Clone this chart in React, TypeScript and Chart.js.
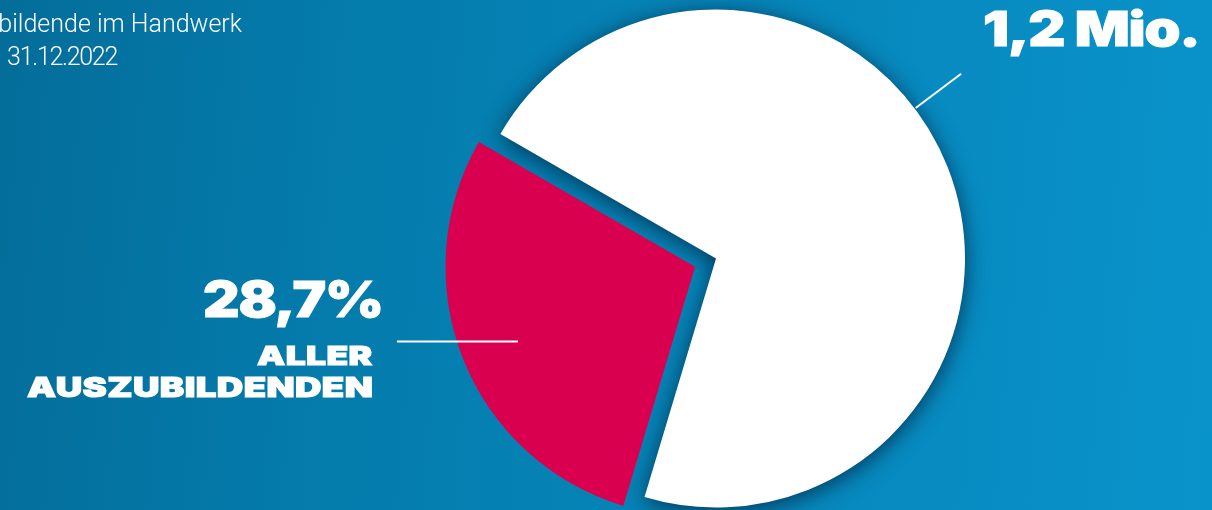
import React, { useEffect, useLayoutEffect, useRef } from "react";
import { Chart, registerables } from "chart.js";

Chart.register(...registerables);

// ---- data ----
const categories = ["Übrige Ausbildungsbereiche", "Handwerk"];
const shares = [71.3, 28.7];
const sliceColors = ["#ffffff", "#da0050"];
const sliceOffsets = [0, 90];
const titleLine1 = "Auszubildende im Handwerk";
const titlePrefix2 = "Stand";
const titleDate = "31.12.2022";
const totalLabel = "1,2 Mio.";
const shareLabel = "28,7%";
const shareCaption = ["ALLER", "AUSZUBILDENDEN"];

// ---- style ----
const W = 1212;
const H = 510;
const sliceShadows = [
  { color: "rgba(0, 35, 65, 0.8)", blur: 22, x: 0, y: 4 },
  { color: "rgba(0,0,0,0)", blur: 0, x: 0, y: 0 },
];

const shadowPlugin = {
  id: "sliceShadow",
  beforeDatasetsDraw(chart: any) {
    const meta = chart.getDatasetMeta(0);
    meta.data.forEach((el: any, i: number) => {
      if (el.__wrapped) return;
      const orig = el.draw.bind(el);
      const sh = sliceShadows[i];
      el.draw = (ctx: CanvasRenderingContext2D) => {
        ctx.save();
        ctx.shadowColor = sh.color;
        ctx.shadowBlur = sh.blur;
        ctx.shadowOffsetX = sh.x;
        ctx.shadowOffsetY = sh.y;
        orig(ctx);
        ctx.restore();
      };
      el.__wrapped = true;
    });
  },
};

const leaderPlugin = {
  id: "leaders",
  afterDatasetsDraw(chart: any) {
    const meta = chart.getDatasetMeta(0);
    const el = meta.data[0];
    if (!el) return;
    const { x, y, outerRadius } = el;
    const ctx = chart.ctx as CanvasRenderingContext2D;
    ctx.save();
    ctx.strokeStyle = "#ffffff";
    ctx.lineWidth = 2;
    const a = (-37 * Math.PI) / 180;
    ctx.beginPath();
    ctx.moveTo(x + Math.cos(a) * (outerRadius + 1), y + Math.sin(a) * (outerRadius + 1));
    ctx.lineTo(x + Math.cos(a) * (outerRadius + 58), y + Math.sin(a) * (outerRadius + 58));
    ctx.stroke();
    ctx.beginPath();
    ctx.moveTo(x - 319, y + 83);
    ctx.lineTo(x - 198, y + 83);
    ctx.stroke();
    ctx.restore();
  },
};

function FitText({ children, right, top, width, style }: any) {
  const ref = useRef<HTMLSpanElement>(null);
  useLayoutEffect(() => {
    const fit = () => {
      const el = ref.current;
      if (!el) return;
      const w = el.offsetWidth;
      if (w > 0 && width) el.style.transform = `scaleX(${width / w})`;
    };
    fit();
    (document as any).fonts?.ready.then(fit);
  }, [width]);
  return (
    <span
      ref={ref}
      style={{
        position: "absolute",
        right: W - right,
        top,
        whiteSpace: "nowrap",
        transformOrigin: "right top",
        lineHeight: 1,
        display: "inline-block",
        color: "#ffffff",
        ...style,
      }}
    >
      {children}
    </span>
  );
}

export default function App() {
  const canvasRef = useRef<HTMLCanvasElement>(null);

  useEffect(() => {
    document.body.style.margin = "0";
    const canvas = canvasRef.current;
    if (!canvas) return;
    const chart = new Chart(canvas, {
      type: "pie",
      data: {
        labels: categories,
        datasets: [
          {
            data: shares,
            backgroundColor: sliceColors,
            borderWidth: 0,
            offset: sliceOffsets,
          },
        ],
      },
      options: {
        responsive: false,
        animation: false,
        rotation: -60,
        radius: 249,
        layout: { padding: { left: 220, right: 0, top: 7, bottom: 0 } },
        plugins: { legend: { display: false }, tooltip: { enabled: false } },
        events: [],
      },
      plugins: [shadowPlugin, leaderPlugin],
    });
    return () => chart.destroy();
  }, []);

  const big = {
    fontFamily: "Inter",
    fontWeight: 900,
    letterSpacing: "-0.02em",
    WebkitTextStroke: "1px #ffffff",
  };
  const light = { fontFamily: "Roboto", fontWeight: 300, fontSize: 25 };

  return (
    <div
      style={{
        position: "absolute",
        left: 0,
        top: 0,
        width: W,
        height: H,
        overflow: "hidden",
        background: "linear-gradient(95deg, #046d9a 0%, #047bab 27%, #0993cb 100%)",
      }}
    >
      <canvas ref={canvasRef} width={W} height={H} style={{ position: "absolute", left: 0, top: 0, width: W, height: H }} />
      <FitText right={242} top={11} style={light}>{titleLine1}</FitText>
      <FitText right={117} top={44} style={light}>
        <span>{titlePrefix2}&nbsp;&nbsp;</span>
        <span style={{ letterSpacing: "-1.3px" }}>{titleDate}</span>
      </FitText>
      <FitText right={1200} top={5.4} width={217} style={{ ...big, fontSize: 48 }}>{totalLabel}</FitText>
      <FitText right={383} top={275.3} width={180} style={{ ...big, fontSize: 49 }}>{shareLabel}</FitText>
      <FitText right={373} top={343.4} width={116} style={{ ...big, fontSize: 26, letterSpacing: "0.01em" }}>{shareCaption[0]}</FitText>
      <FitText right={373} top={374.3} width={346} style={{ ...big, fontSize: 27, letterSpacing: "0.01em" }}>{shareCaption[1]}</FitText>
    </div>
  );
}
